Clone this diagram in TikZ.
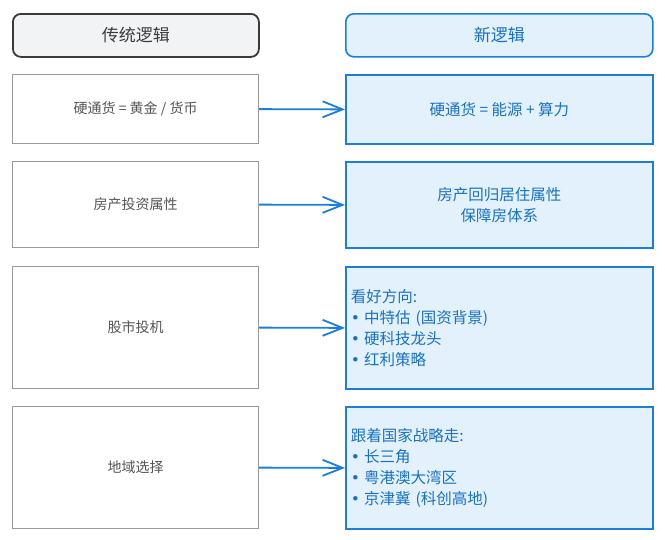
\documentclass[tikz,border=0pt]{standalone}
\usepackage{fontspec}
\setmainfont{Noto Sans CJK SC}
\newfontfamily\bulletfont{DejaVu Sans}
\newcommand{\bul}{{\bulletfont •}\hspace{4pt}}
\usetikzlibrary{arrows.meta}
\definecolor{hfill}{HTML}{F1F3F5}
\definecolor{hstroke}{HTML}{3A3A3A}
\definecolor{gstroke}{HTML}{999999}
\definecolor{gtext}{HTML}{555555}
\definecolor{bstroke}{HTML}{1C7ED6}
\definecolor{bfill}{HTML}{E3F1FD}
\definecolor{btext}{HTML}{1971C2}
\tikzset{
  box/.style={anchor=north west, inner sep=0pt, minimum width=246pt},
  lhead/.style={box, draw=hstroke, fill=hfill, line width=1.8pt, rounded corners=8pt, minimum height=43pt, text=hstroke, font=\fontsize{17}{20}\selectfont},
  rhead/.style={box, draw=bstroke, fill=bfill, line width=1.6pt, rounded corners=8pt, minimum width=307pt, minimum height=43pt, text=btext, font=\fontsize{17}{20}\selectfont},
  lbox/.style={box, draw=gstroke, fill=white, line width=1.2pt, text=gtext, font=\fontsize{14}{18}\selectfont},
  rbox/.style={box, draw=bstroke, fill=bfill, line width=1.8pt, minimum width=307pt, text=btext, align=center, font=\fontsize{15.5}{21}\selectfont},
  rlist/.style={rbox, align=left, text width=297pt, inner xsep=5pt},
  arr/.style={draw=bstroke, line width=1.8pt, -{Straight Barb[length=20pt, width=16pt, line width=1.8pt]}}
}
\begin{document}
\begin{tikzpicture}[x=1pt, y=-1pt]
\useasboundingbox (0,0) rectangle (665,539);
\node[lhead] (h1) at (12,13) {传统逻辑};
\node[rhead] (h2) at (345,13) {新逻辑};

\node[lbox, minimum height=69pt] (l1) at (12,74) {硬通货 = 黄金 / 货币};
\node[rbox, minimum height=69pt] (r1) at (345,74) {硬通货 = 能源 + 算力};

\node[lbox, minimum height=86pt] (l2) at (12,161) {房产投资属性};
\node[rbox, minimum height=86pt] (r2) at (345,161) {房产回归居住属性\\保障房体系};

\node[lbox, minimum height=122pt] (l3) at (12,266) {股市投机};
\node[rlist, minimum height=122pt] (r3) at (345,266) {看好方向:\\\bul 中特估 (国资背景)\\\bul 硬科技龙头\\\bul 红利策略};

\node[lbox, minimum height=122pt] (l4) at (12,406) {地域选择};
\node[rlist, minimum height=122pt] (r4) at (345,406) {跟着国家战略走:\\\bul 长三角\\\bul 粤港澳大湾区\\\bul 京津冀 (科创高地)};

\draw[arr] (l1.east) -- (r1.west);
\draw[arr] (l2.east) -- (r2.west);
\draw[arr] (l3.east) -- (r3.west);
\draw[arr] (l4.east) -- (r4.west);
\end{tikzpicture}
\end{document}
